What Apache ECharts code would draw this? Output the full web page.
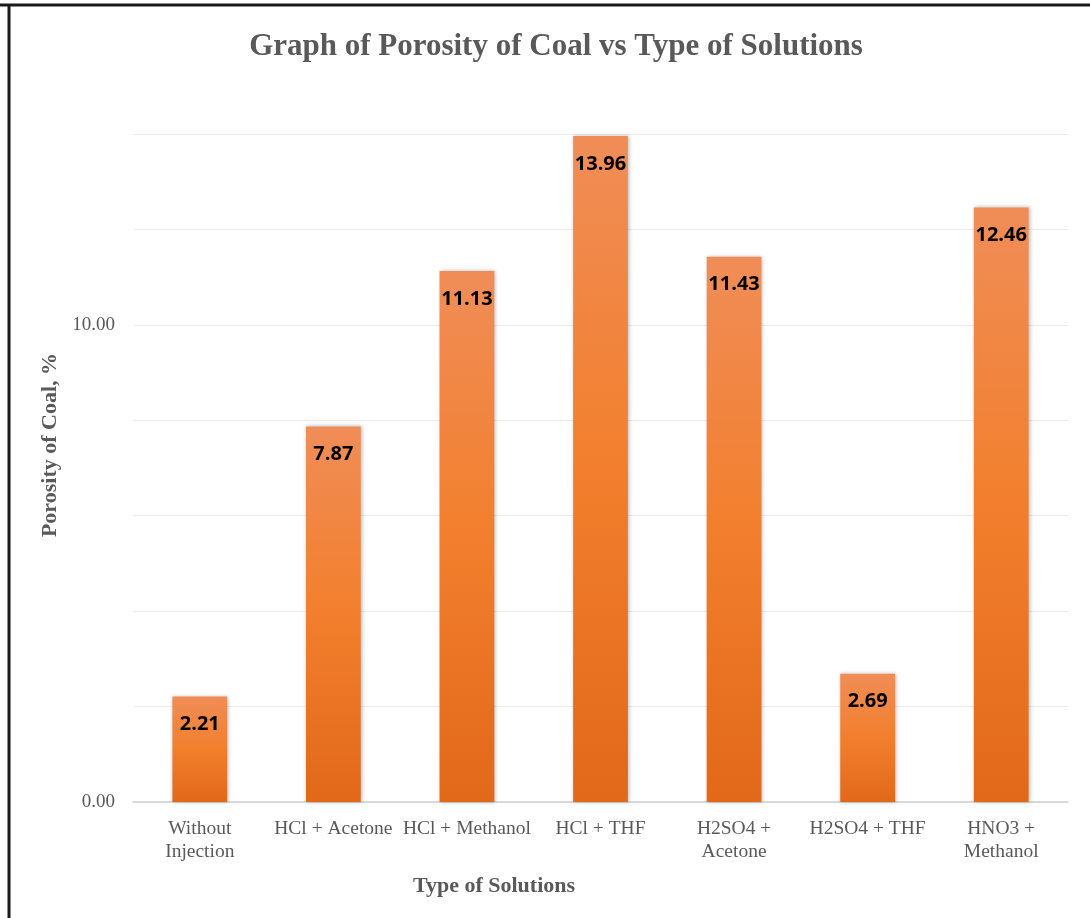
<!DOCTYPE html>
<html>
<head>
<meta charset="utf-8">
<title>Graph of Porosity of Coal vs Type of Solutions</title>
<script src="https://cdn.jsdelivr.net/npm/echarts@6/dist/echarts.min.js"></script>
<style>
  html, body { margin: 0; padding: 0; background: #fff; }
  #chart { width: 1090px; height: 918px; }
</style>
</head>
<body>
<div id="chart"></div>
<script>
// Solution types on the category axis
const categories = [
  'Without\nInjection',
  'HCl + Acetone',
  'HCl + Methanol',
  'HCl + THF',
  'H2SO4 +\nAcetone',
  'H2SO4 + THF',
  'HNO3 +\nMethanol'
];
// Porosity of coal, %
const porosity = [2.21, 7.87, 11.13, 13.96, 11.43, 2.69, 12.46];
// Value-axis ticks that carry a text label
const labelledTicks = [0, 10];

const serif = '"Liberation Serif", "DejaVu Serif", serif';
const chart = echarts.init(document.getElementById('chart'), null, { renderer: 'canvas' });

chart.setOption({
  backgroundColor: '#ffffff',
  animation: false,
  title: {
    text: 'Graph of Porosity of Coal vs Type of Solutions',
    left: 551,
    top: 26,
    textAlign: 'center',
    textStyle: { fontFamily: serif, fontWeight: 'bold', fontSize: 31, color: '#595959' }
  },
  grid: { left: 133, right: 22, top: 134, bottom: 116 },
  xAxis: {
    type: 'category',
    data: categories,
    axisLine: { lineStyle: { color: '#d0d0d0', width: 1.5 } },
    axisTick: { show: false },
    axisLabel: {
      interval: 0,
      margin: 15,
      fontFamily: serif,
      fontSize: 19.5,
      lineHeight: 23,
      color: '#595959'
    }
  },
  yAxis: {
    type: 'value',
    min: 0,
    max: 14,
    interval: 2,
    axisLine: { show: false },
    axisTick: { show: false },
    splitLine: { lineStyle: { color: '#ececec', width: 1 } },
    axisLabel: {
      margin: 18,
      fontFamily: serif,
      fontSize: 19,
      color: '#595959',
      formatter: v => labelledTicks.includes(v) ? v.toFixed(2) : ''
    }
  },
  graphic: [
    {
      type: 'text',
      x: 50, y: 445,
      rotation: Math.PI / 2,
      style: {
        text: 'Porosity of Coal, %',
        fontFamily: serif, fontWeight: 'bold', fontSize: 22, fill: '#595959',
        textAlign: 'center', textVerticalAlign: 'middle'
      }
    },
    {
      type: 'text',
      x: 494, y: 886,
      style: {
        text: 'Type of Solutions',
        fontFamily: serif, fontWeight: 'bold', fontSize: 22, fill: '#595959',
        textAlign: 'center', textVerticalAlign: 'middle'
      }
    },
    {
      type: 'line',
      shape: { x1: 0, y1: 5, x2: 1090, y2: 5 },
      style: { stroke: '#1a1a1a', lineWidth: 3 }
    },
    {
      type: 'line',
      shape: { x1: 9, y1: 5, x2: 9, y2: 918 },
      style: { stroke: '#1a1a1a', lineWidth: 3 }
    }
  ],
  series: [{
    type: 'bar',
    data: porosity,
    barWidth: '41%',
    itemStyle: {
      color: new echarts.graphic.LinearGradient(0, 0, 0, 1, [
        { offset: 0, color: '#F08D57' },
        { offset: 0.5, color: '#F27F2D' },
        { offset: 1, color: '#E2681A' }
      ], false),
      shadowColor: 'rgba(0,0,0,0.28)',
      shadowBlur: 4,
      shadowOffsetX: 1,
      shadowOffsetY: 0
    },
    label: {
      show: true,
      position: 'insideTop',
      distance: 18,
      fontFamily: '"Open Sans", "Noto Sans", sans-serif',
      fontWeight: 'bold',
      fontSize: 20,
      color: '#000000',
      formatter: p => p.value.toFixed(2)
    }
  }]
});
</script>
</body>
</html>
